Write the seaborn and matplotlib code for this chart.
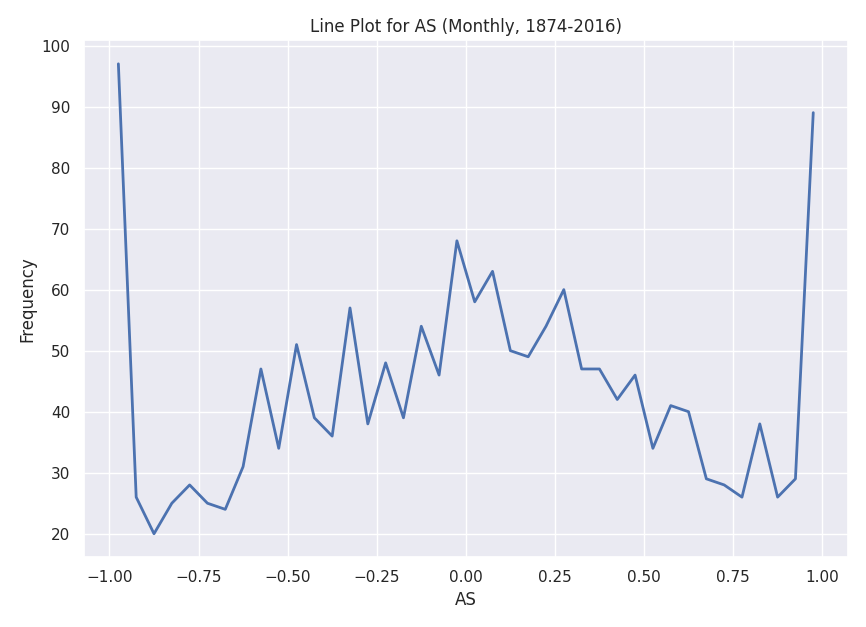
import matplotlib
matplotlib.use("Agg")
import matplotlib.pyplot as plt
import numpy as np
import pandas as pd
import seaborn as sns

# bin centres and counts
bin_centres = np.round(np.arange(-0.975, 1.0, 0.05), 3)
counts = [97, 26, 20, 25, 28, 25, 24, 31, 47, 34,
          51, 39, 36, 57, 38, 48, 39, 54, 46, 68,
          58, 63, 50, 49, 54, 60, 47, 47, 42, 46,
          34, 41, 40, 29, 28, 26, 38, 26, 29, 89]

sns.set_theme(style="darkgrid")
df = pd.DataFrame({"AS": bin_centres, "Frequency": counts})

fig, ax = plt.subplots(figsize=(8.66, 6.27), dpi=100)
sns.lineplot(data=df, x="AS", y="Frequency", ax=ax, linewidth=2)
ax.set_title("Line Plot for AS (Monthly, 1874-2016)")
ax.set_xticks(np.arange(-1.0, 1.01, 0.25))
fig.tight_layout()
fig.savefig("out.png", dpi=100)
